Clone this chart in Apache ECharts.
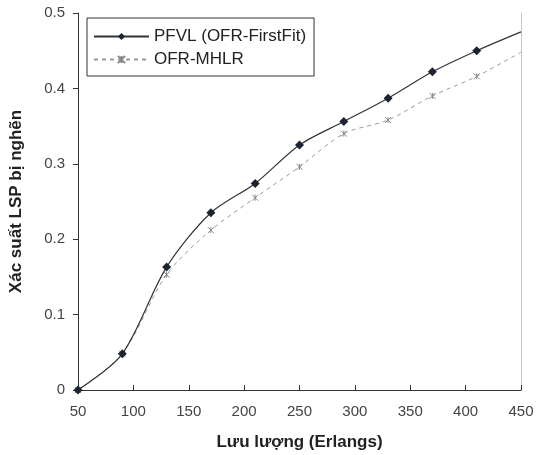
<!DOCTYPE html>
<html>
<head>
<meta charset="utf-8">
<script src="https://cdn.jsdelivr.net/npm/echarts@6/dist/echarts.min.js"></script>
<style>
  html, body { margin: 0; padding: 0; background: #fff; }
  #chart { width: 547px; height: 455px; }
</style>
</head>
<body>
<div id="chart"></div>
<script>
// luu luong (Erlangs)
const traffic = [50, 90, 130, 170, 210, 250, 290, 330, 370, 410, 450]
// xac suat nghen
const pfvl = [0, 0.048, 0.163, 0.235, 0.274, 0.325, 0.356, 0.387, 0.422, 0.45, 0.475]
const mhlr = [0, 0.048, 0.153, 0.212, 0.255, 0.296, 0.34, 0.358, 0.39, 0.416, 0.448]
const xTicks = [50, 100, 150, 200, 250, 300, 350, 400, 450]

const chart = echarts.init(document.getElementById('chart'))

// diem cuoi khong co marker
const toData = (ys) => ys.map((y, i) => {
  const item = { value: [traffic[i], y] }
  if (i === ys.length - 1) item.symbol = 'none'
  return item
})

const option = {
  animation: false,
  backgroundColor: '#fff',
  textStyle: { fontFamily: 'Liberation Sans, Arial, sans-serif' },
  grid: { left: 78, right: 26, top: 13, bottom: 65, outerBoundsMode: 'none', containLabel: false },
  legend: {
    orient: 'vertical',
    left: 87,
    top: 18,
    padding: [10, 8, 8, 6],
    itemGap: 6,
    itemWidth: 55,
    itemHeight: 9,
    borderColor: '#333',
    borderWidth: 1,
    textStyle: { fontSize: 17, color: '#222' },
    data: ['PFVL (OFR-FirstFit)', 'OFR-MHLR']
  },
  xAxis: {
    type: 'value',
    min: xTicks[0],
    max: xTicks[xTicks.length - 1],
    interval: 50,
    name: 'Lưu lượng (Erlangs)',
    nameLocation: 'middle',
    nameGap: 44,
    nameTextStyle: { fontSize: 17, fontWeight: 'bold', color: '#222' },
    axisLine: { lineStyle: { color: '#333', width: 1 } },
    axisTick: { inside: true, length: 5, lineStyle: { color: '#333' } },
    axisLabel: { fontSize: 15, color: '#444', margin: 14 },
    splitLine: { show: false }
  },
  yAxis: [
    {
      type: 'value',
      min: 0,
      max: 0.5,
      interval: 0.1,
      name: 'Xác suất LSP bị nghẽn',
      nameLocation: 'middle',
      nameGap: 53,
      nameTextStyle: { fontSize: 17, fontWeight: 'bold', color: '#222' },
      axisLine: { show: true, lineStyle: { color: '#333', width: 1 } },
      axisTick: { show: true, length: 5, lineStyle: { color: '#333' } },
      axisLabel: { fontSize: 15, color: '#444', margin: 13 },
      splitLine: { show: false }
    },
    {
      // vien phai dang cham
      type: 'value',
      position: 'right',
      min: 0,
      max: 0.5,
      axisLine: { show: true, lineStyle: { color: '#bbb', type: 'dotted', width: 1 } },
      axisTick: { show: false },
      axisLabel: { show: false },
      splitLine: { show: false }
    }
  ],
  series: [
    {
      name: 'PFVL (OFR-FirstFit)',
      type: 'line',
      smooth: 0.3,
      symbol: 'diamond',
      symbolSize: 9,
      lineStyle: { color: '#333', width: 1.2 },
      itemStyle: { color: '#1c2333' },
      data: toData(pfvl),
      z: 3
    },
    {
      name: 'OFR-MHLR',
      type: 'line',
      smooth: 0.3,
      symbol: 'path://M0,0 L10,10 M10,0 L0,10 M5,0 L5,10',
      symbolSize: 6,
      lineStyle: { color: '#999', width: 1, type: [4, 4] },
      itemStyle: { color: 'transparent', borderColor: '#888', borderWidth: 1 },
      data: toData(mhlr),
      z: 2
    }
  ]
}

chart.setOption(option)
</script>
</body>
</html>
